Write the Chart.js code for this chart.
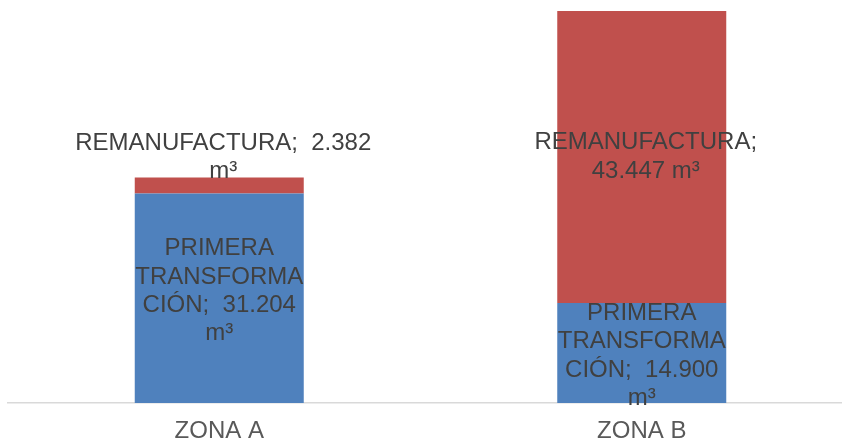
<!DOCTYPE html>
<html>
<head>
<meta charset="utf-8">
<script src="https://cdn.jsdelivr.net/npm/chart.js@4.4.1/dist/chart.umd.min.js"></script>
<style>
html,body{margin:0;padding:0;background:#fff;overflow:hidden;}
#wrap{width:842px;height:442px;overflow:hidden;position:relative;}
canvas{display:block;}
</style>
</head>
<body>
<div id="wrap"><canvas id="c" width="870" height="442"></canvas></div>
<script>
const categories = ["ZONA A", "ZONA B"];
const seriesNames = ["PRIMERA TRANSFORMACIÓN", "REMANUFACTURA"];
const primeraValues = [31204, 14900];
const remanValues = [2382, 43447];
const yMin = 0;
const yMax = 60000;

function fmt(v){ return String(v).replace(/\B(?=(\d{3})+(?!\d))/g, "."); }

// label line layouts (text wrapped like the reference)
function labelLines(ds, i, v){
  const val = fmt(v);
  if (ds === 0) return ["PRIMERA", "TRANSFORMA", "CIÓN;  " + val, "m³"];
  if (i === 0) return ["REMANUFACTURA;  " + val, "m³"];
  return ["REMANUFACTURA;", val + " m³"];
}

const labelPlugin = {
  id: 'segLabels',
  afterDatasetsDraw(chart){
    const ctx = chart.ctx;
    ctx.save();
    ctx.font = '24px "Liberation Sans", Arial, sans-serif';
    ctx.fillStyle = '#404040';
    ctx.textAlign = 'center';
    ctx.textBaseline = 'middle';
    const lh = 28.3;
    chart.data.datasets.forEach((ds, di) => {
      const meta = chart.getDatasetMeta(di);
      meta.data.forEach((el, i) => {
        const lines = labelLines(di, i, ds.data[i]);
        const top = Math.min(el.y, el.base), bot = Math.max(el.y, el.base);
        let cy = (top + bot) / 2;
        const blockH = lines.length * lh;
        if (blockH > (bot - top) && di === 1) {
          cy = top - blockH / 2 + 8;
        }
        if (di === 0 && i === 0) cy -= 7;
        if (di === 0 && i === 1) cy += 3;
        const cx = el.x + (di === 1 ? 4 : 0);
        lines.forEach((t, k) => {
          ctx.fillText(t, cx, cy - blockH / 2 + lh * (k + 0.5));
        });
      });
    });
    ctx.restore();
  }
};

new Chart(document.getElementById('c'), {
  type: 'bar',
  data: {
    labels: categories,
    datasets: [
      { label: seriesNames[0], data: primeraValues, backgroundColor: '#4f81bd', borderWidth: 0 },
      { label: seriesNames[1], data: remanValues, backgroundColor: '#c0504d', borderWidth: 0 }
    ]
  },
  options: {
    responsive: false,
    animation: false,
    devicePixelRatio: 1,
    layout: { padding: { left: 8, right: 17, top: 0, bottom: 0 } },
    plugins: { legend: { display: false }, tooltip: { enabled: false } },
    datasets: { bar: { categoryPercentage: 1.0, barPercentage: 0.4 } },
    scales: {
      x: {
        stacked: true,
        afterFit(scale){ scale.height = 39; },
        grid: { display: false, drawTicks: false },
        border: { display: true, color: '#d9d9d9', width: 1.5 },
        ticks: { color: '#595959', padding: 16, font: { size: 24, family: '"Liberation Sans", Arial, sans-serif', lineHeight: 1 } }
      },
      y: {
        stacked: true,
        display: false,
        min: yMin,
        max: yMax
      }
    }
  },
  plugins: [labelPlugin]
});
</script>
</body>
</html>
